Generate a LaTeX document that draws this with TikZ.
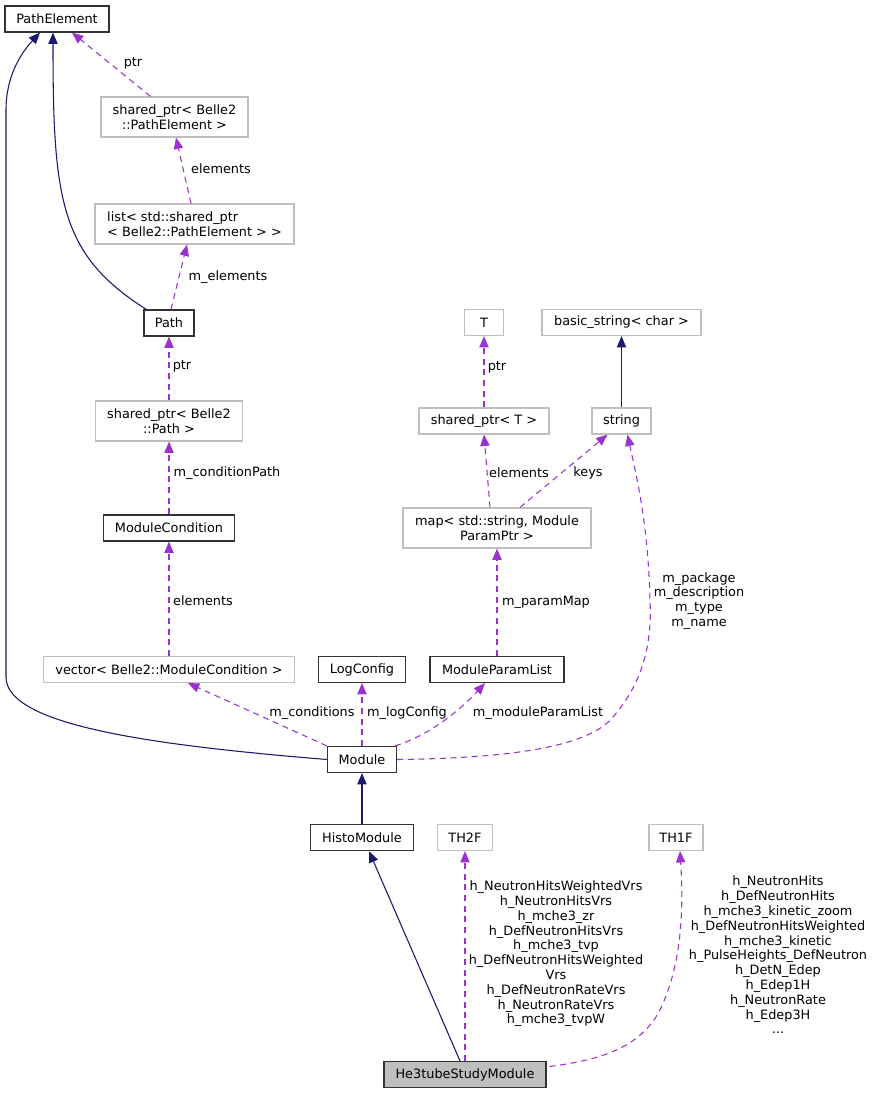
\documentclass[tikz,border=0pt]{standalone}
\usepackage{fontspec}
\setmainfont{DejaVu Sans}
\usetikzlibrary{arrows.meta,calc}
\definecolor{inhblue}{HTML}{191970}
\definecolor{usepurple}{HTML}{9A32CD}
\definecolor{boxgray}{HTML}{BFBFBF}

\begin{document}
\begin{tikzpicture}[x=0.75pt,y=-0.75pt,
   font=\fontsize{9.64pt}{11.1pt}\selectfont,
   box/.style={draw=black!80,line width=0.9pt,inner sep=0pt,minimum height=19.5pt,minimum width=#1*0.75pt},
   extbox/.style={box=#1,draw=boxgray},
   tall/.style={minimum height=30pt,align=center},
   inh/.style={draw=inhblue,line width=0.8pt,-{Triangle[length=8.5pt,width=7pt]}},
   usage/.style={draw=usepurple,line width=0.8pt,dash pattern=on 4.5pt off 3.5pt,-{Triangle[length=8.5pt,width=7pt]}},
   lbl/.style={inner sep=0pt,align=center}]
   \useasboundingbox (0,0) rectangle (873,1093);

   \node[box=104] (pathelem) at (57,19) {PathElement};
   \node[extbox=147,tall] (spPE) at (174.5,117) {shared\_ptr< Belle2\\::PathElement >};
   \node[extbox=199,tall,align=left] (listPE) at (194.5,224) {list< std::shared\_ptr\\< Belle2::PathElement > >};
   \node[box=50] (path) at (169,323) {Path};
   \node[extbox=147,tall] (spPath) at (169,421) {shared\_ptr< Belle2\\::Path >};
   \node[box=131] (modcond) at (169,528) {ModuleCondition};
   \node[extbox=251] (vecMC) at (169,669.5) {vector< Belle2::ModuleCondition >};
   \node[box=87] (logcfg) at (362,669.5) {LogConfig};
   \node[box=134] (modparlist) at (497,669.5) {ModuleParamList};
   \node[box=69] (module) at (362,759.5) {Module};
   \node[extbox=39] (T) at (484,322.5) {T};
   \node[extbox=159] (basicstr) at (621.5,322.5) {basic\_string< char >};
   \node[extbox=130] (spT) at (484,421) {shared\_ptr< T >};
   \node[extbox=59] (string) at (621.5,421) {string};
   \node[extbox=188,tall] (mapSP) at (497,528) {map< std::string, Module\\ParamPtr >};
   \node[box=103] (histo) at (362,837.5) {HistoModule};
   \node[extbox=55] (th2f) at (465,837.5) {TH2F};
   \node[extbox=54] (th1f) at (676,837.5) {TH1F};
   \node[box=162,fill=boxgray] (he3) at (465,1074.5) {He3tubeStudyModule};

   \draw[inh] (module.west) .. controls (150,745) and (6,725) .. (6,677) -- (6,110)
      .. controls (6,75) and (22,52) .. ($(pathelem.south)+(-17,0)$);
   \draw[inh] ($(path.north west)+(3,0)$) .. controls (60,255) and (53,200) .. ($(pathelem.south)+(-4,0)$);
   \draw[inh] (histo.north) -- (module.south);
   \draw[inh] ($(he3.north)+(-5,0)$) -- ($(histo.south)+(7,0)$);
   \draw[inh] (string.north) -- (basicstr.south);

   \draw[usage] ($(spPE.north)+(-24,0)$) -- ($(pathelem.south)+(15,0)$);
   \draw[usage] ($(listPE.north)+(-3.5,0)$) -- ($(spPE.south)+(1.5,0)$);
   \draw[usage] ($(path.north)+(2,0)$) -- ($(listPE.south)+(-7.5,0)$);
   \draw[usage] (spPath.north) -- (path.south);
   \draw[usage] (modcond.north) -- (spPath.south);
   \draw[usage] (vecMC.north) -- (modcond.south);
   \draw[usage] (module.north west) -- ($(vecMC.south)+(19,0)$);
   \draw[usage] (module.north) -- (logcfg.south);
   \draw[usage] ($(module.north east)+(-2,0)$) .. controls (430,735) and (460,710) .. ($(modparlist.south)+(-12,0)$);
   \draw[usage] (modparlist.north) -- (mapSP.south);
   \draw[usage] ($(mapSP.north)+(-7,0)$) -- (spT.south);
   \draw[usage] ($(mapSP.north)+(23,0)$) -- ($(string.south)+(-14,0)$);
   \draw[usage] (spT.north) -- (T.south);
   \draw[usage] (module.east) .. controls (520,758) and (590,745) .. (613,717)
      .. controls (645,680) and (652,640) .. (650,600) .. controls (648,520) and (635,470) .. ($(string.south)+(6,0)$);
   \draw[usage] (he3.north) -- (th2f.south);
   \draw[usage] ($(he3.east)+(3,-8)$) .. controls (600,1060) and (640,1048) .. (660,1010)
      .. controls (684,960) and (683,900) .. ($(th1f.south)+(4,0)$);

   \node[lbl] (l_ptrPE) at (133,63) {ptr};
   \node[lbl] (l_elemPE) at (221,169) {elements};
   \node[lbl] (l_melem) at (228,277) {m\_elements};
   \node[lbl] (l_ptrPath) at (182,366) {ptr};
   \node[lbl] (l_mcondpath) at (227,473) {m\_conditionPath};
   \node[lbl] (l_elemMC) at (203,601) {elements};
   \node[lbl] (l_mconds) at (312,713) {m\_conditions};
   \node[lbl] (l_mlog) at (407,713) {m\_logConfig};
   \node[lbl] (l_mmpl) at (538,713) {m\_moduleParamList};
   \node[lbl] (l_ptrT) at (497,367) {ptr};
   \node[lbl] (l_elemT) at (519,473) {elements};
   \node[lbl] (l_keys) at (588,473) {keys};
   \node[lbl] (l_mparam) at (546,602) {m\_paramMap};
   \node[lbl] (l_mstr) at (699,601) {m\_package\\m\_description\\m\_type\\m\_name};
   \node[lbl] (l_th2f) at (556,954) {h\_NeutronHitsWeightedVrs\\h\_NeutronHitsVrs\\h\_mche3\_zr\\h\_DefNeutronHitsVrs\\h\_mche3\_tvp\\h\_DefNeutronHitsWeighted\\Vrs\\h\_DefNeutronRateVrs\\h\_NeutronRateVrs\\h\_mche3\_tvpW};
   \node[lbl] (l_th1f) at (778,955) {h\_NeutronHits\\h\_DefNeutronHits\\h\_mche3\_kinetic\_zoom\\h\_DefNeutronHitsWeighted\\h\_mche3\_kinetic\\h\_PulseHeights\_DefNeutron\\h\_DetN\_Edep\\h\_Edep1H\\h\_NeutronRate\\h\_Edep3H\\...};
\end{tikzpicture}
\end{document}
